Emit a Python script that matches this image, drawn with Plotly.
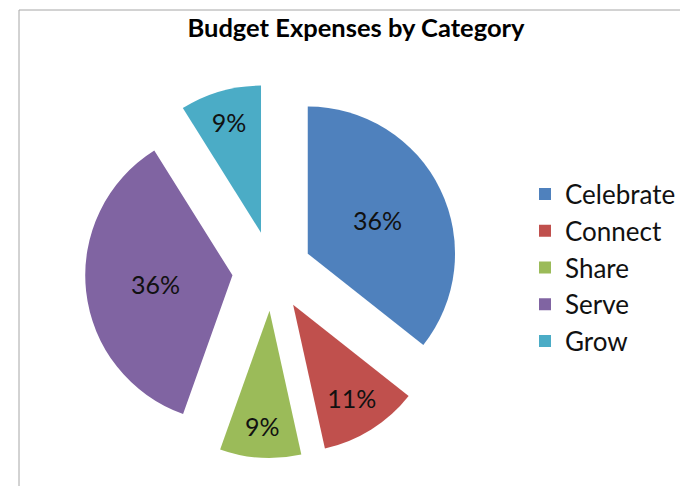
import plotly.graph_objects as go

categories = ["Celebrate", "Connect", "Share", "Serve", "Grow"]
values = [36, 11, 9, 36, 9]
colors = ["#4F81BD", "#C0504D", "#9BBB59", "#8064A2", "#4BACC6"]
title_text = "Budget Expenses by Category"

W, H = 688, 486
cx, cy, half = 264, 263, 187  # pie centre and half-size in px

fig = go.Figure(go.Pie(
    labels=categories,
    values=values,
    sort=False,
    direction="clockwise",
    rotation=0,
    pull=[0.27] * len(values),
    marker=dict(colors=colors, line=dict(width=0)),
    texttemplate="%{percent:.0%}",
    textposition="inside",
    insidetextorientation="horizontal",
    textfont=dict(family="Lato", size=25, color="#111111"),
    domain=dict(x=[(cx - half) / W, (cx + half) / W],
                y=[1 - (cy + half) / H, 1 - (cy - half) / H]),
    hoverinfo="label+percent",
))

fig.update_layout(
    width=W, height=H,
    margin=dict(l=0, r=0, t=0, b=0),
    paper_bgcolor="white",
    plot_bgcolor="white",
    title=dict(text=f"<b>{title_text}</b>", x=348 / W, xanchor="center",
               y=1 - 20 / H, yanchor="middle",
               font=dict(family="Lato", size=25.5, color="#000000")),
    legend=dict(x=517 / W, xanchor="left", y=1 - 260 / H, yanchor="middle",
                font=dict(family="Lato", size=26, color="#111111"),
                tracegroupgap=0,
                bgcolor="rgba(0,0,0,0)"),
    shapes=[dict(type="rect", xref="paper", yref="paper",
                 x0=11 / W, x1=683 / W, y0=-0.05, y1=1 - 2 / H,
                 line=dict(color="#a6a6a6", width=1))],
)

fig.write_html("out.html")
